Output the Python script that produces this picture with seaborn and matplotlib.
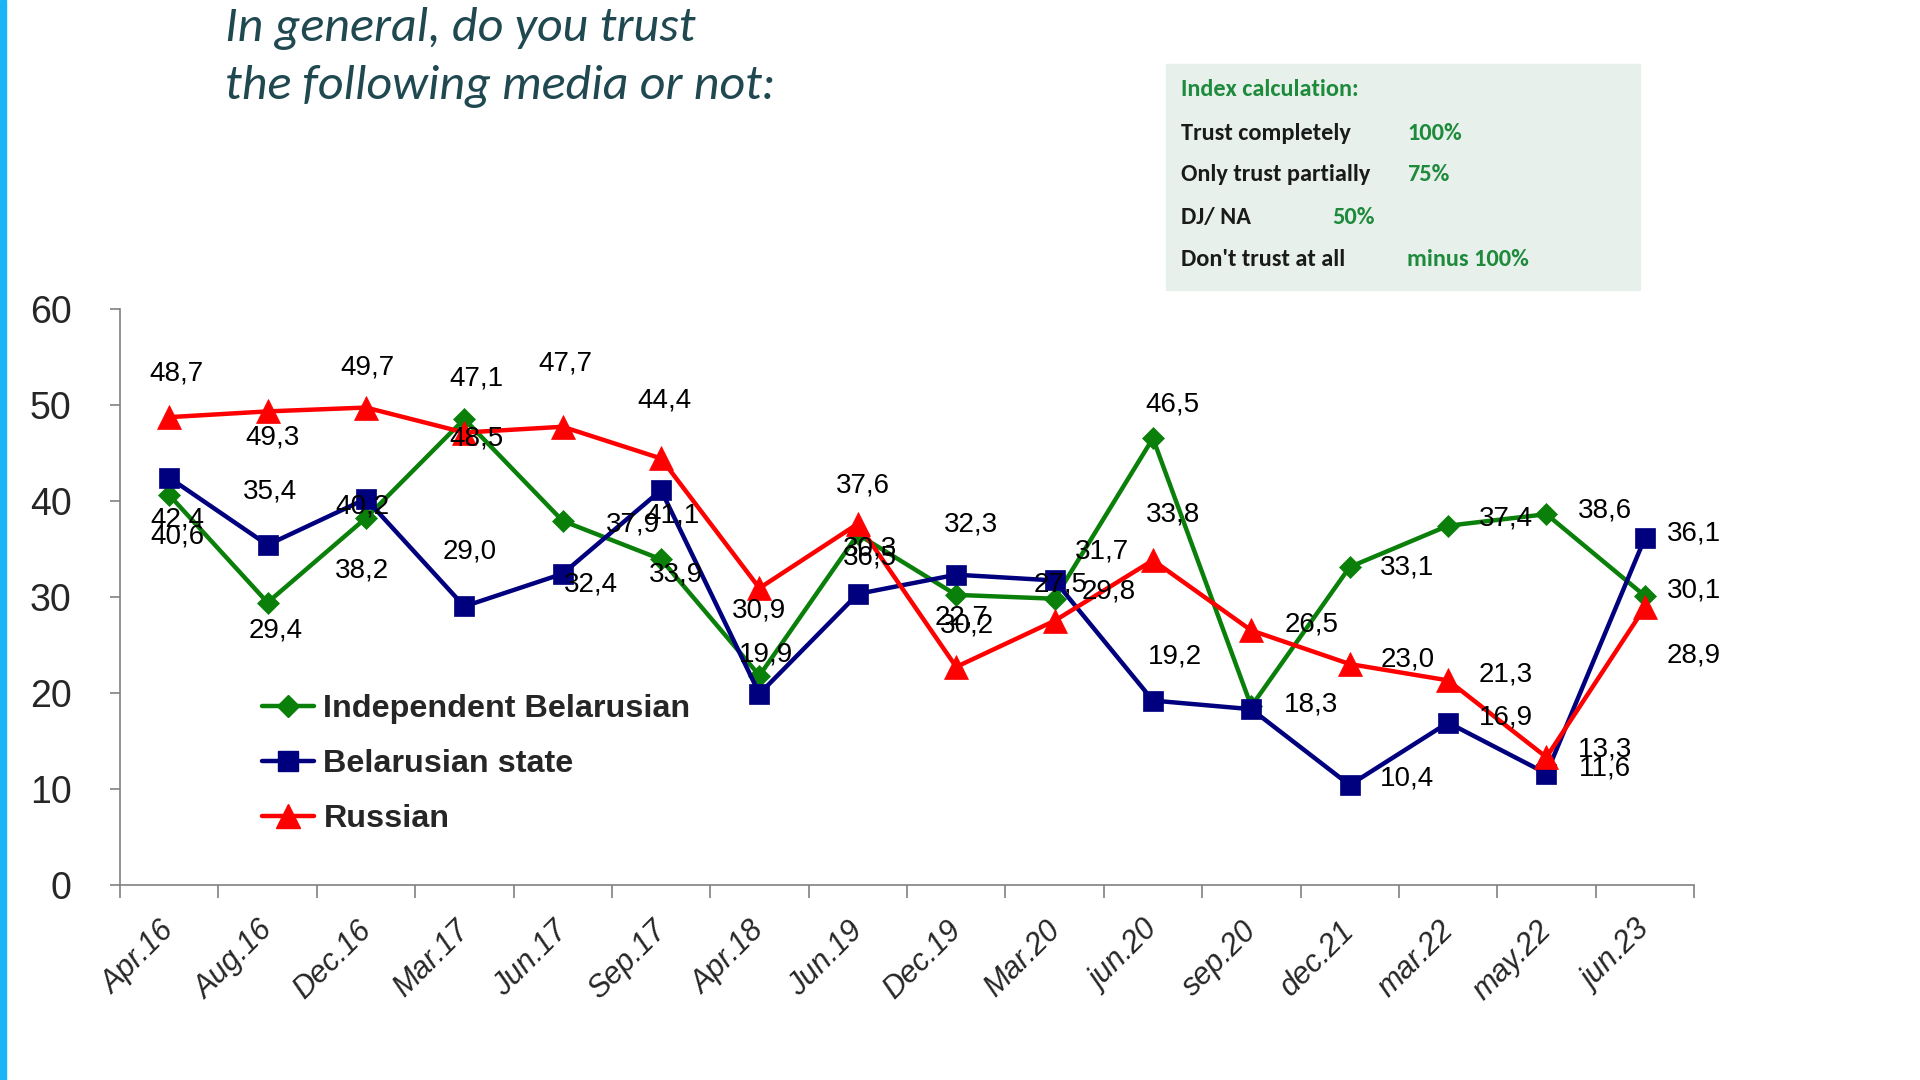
import numpy as np
import pandas as pd
import matplotlib
matplotlib.use("Agg")
import matplotlib.pyplot as plt
from matplotlib import font_manager as fm
from matplotlib.lines import Line2D
from matplotlib.patches import Rectangle
import seaborn as sns

# ---------------- data ----------------
categories = ["Apr.16", "Aug.16", "Dec.16", "Mar.17", "Jun.17", "Sep.17", "Apr.18",
              "Jun.19", "Dec.19", "Mar.20", "jun.20", "sep.20", "dec.21", "mar.22",
              "may.22", "jun.23"]
independent = [40.6, 29.4, 38.2, 48.5, 37.9, 33.9, 21.8, 36.5, 30.2, 29.8, 46.5, 18.6,
               33.1, 37.4, 38.6, 30.1]
state = [42.4, 35.4, 40.2, 29.0, 32.4, 41.1, 19.9, 30.3, 32.3, 31.7, 19.2, 18.3,
         10.4, 16.9, 11.6, 36.1]
russian = [48.7, 49.3, 49.7, 47.1, 47.7, 44.4, 30.9, 37.6, 22.7, 27.5, 33.8, 26.5,
           23.0, 21.3, 13.3, 28.9]
series_names = ["Independent Belarusian", "Belarusian state", "Russian"]
yticks = [0, 10, 20, 30, 40, 50, 60]

title_lines = ["In general, do you trust", "the following media or not:"]
box_title = "Index calculation:"
box_rows = ["Trust completely", "Only trust partially", "DJ/ NA", "Don't trust at all"]
box_values = ["100%", "75%", "50%", "minus 100%"]

# ---------------- styles / label placement (pixel offsets, right/down) ----------------
colors = ["#0A800A", "#00007F", "#FF0000"]
markers = ["D", "s", "^"]
msizes = [11, 15, 17]
off_ind = [(7, 34), (7, 23), (-3, 43), (10, 16), (57, 3), (12, 12), None, (10, 19),
           (9, 25), (44, -6), (16, -28), None, (47, 0), (47, -6), (48, -3), (40, -4)]
off_state = [(7, 34), (2, -44), (-3, 6), (4, -45), (23, 9), (9, 21), (5, -32), (10, -37),
             (12, -41), (39, -24), (18, -36), (49, -4), (47, -5), (47, -4), (48, -4), (40, -4)]
off_rus = [(6, -36), (4, 21), (1, -33), (10, -44), (2, -52), (3, -47), (0, 18), (4, -31),
           (4, -40), (5, -30), (16, -37), (49, -5), (47, -4), (47, -5), (48, -6), (40, 39)]
label_shift = -0.1  # tick-label anchor shift (category units)

# ---------------- fonts ----------------
sns.set_theme(style="white")
avail = {f.name for f in fm.fontManager.ttflist}
def pick(*cands):
    for c in cands:
        if c in avail:
            return c
    return "DejaVu Sans"
ARIAL = pick("Liberation Sans", "Arial", "DejaVu Sans")
CALIBRI = pick("Carlito", "Lato", "Open Sans", "Noto Sans")
plt.rcParams["font.family"] = [ARIAL, "DejaVu Sans"]

SCALE = 1920 / 1568.0

fig = plt.figure(figsize=(19.2, 10.8), dpi=100)
fig.patch.set_facecolor("white")
ax = fig.add_axes([120 / 1920, 1 - 885 / 1080, (1694 - 120) / 1920, (885 - 308.6) / 1080])

x = np.arange(len(categories))
df = pd.DataFrame({"x": np.tile(x, 3),
                   "value": independent + state + russian,
                   "series": np.repeat(series_names, len(categories))})

for name, col, mk, ms in zip(series_names, colors, markers, msizes):
    sub = df[df["series"] == name]
    sns.lineplot(data=sub, x="x", y="value", ax=ax, color=col, linewidth=3.2,
                 marker=mk, markersize=ms, markeredgecolor=col, markeredgewidth=0.5,
                 legend=False, sort=False)

# data labels
for vals, offs in [(independent, off_ind), (state, off_state), (russian, off_rus)]:
    for xi, v, o in zip(x, vals, offs):
        if o is None:
            continue
        ax.annotate(f"{v:.1f}".replace(".", ","), (xi, v),
                    xytext=(o[0] * SCALE, -o[1] * SCALE), textcoords="offset pixels",
                    ha="center", va="center", fontsize=20, color="black",
                    family=[ARIAL, "DejaVu Sans"], zorder=10)

# axes
ax.set_xlim(-0.5, len(categories) - 0.5)
ax.set_ylim(0, 60)
ax.set_xticks(np.arange(-0.5, len(categories), 1.0))
ax.set_xticklabels([])
ax.set_xticks(x + label_shift, minor=True)
ax.set_xticklabels(categories, minor=True, rotation=45, ha="right", va="top",
                   rotation_mode="anchor", fontsize=22, style="italic")
ax.tick_params(axis="x", which="major", direction="out", length=9, width=1.2,
               color="#808080", bottom=True)
ax.tick_params(axis="x", which="minor", length=0, pad=22, bottom=True)
ax.set_yticks(yticks)
ax.set_yticklabels([str(t) for t in yticks], fontsize=27)
ax.tick_params(axis="y", direction="out", length=7, width=1.2, color="#808080",
               pad=28, left=True)
ax.set_xlabel("")
ax.set_ylabel("")
for s in ["top", "right"]:
    ax.spines[s].set_visible(False)
for s in ["left", "bottom"]:
    ax.spines[s].set_color("#808080")
    ax.spines[s].set_linewidth(1.2)
ax.grid(False)

# legend
handles = [Line2D([0], [0], color=c, lw=3.2, marker=m, markersize=ms, markeredgecolor=c)
           for c, m, ms in zip(colors, markers, msizes)]
fig.legend(handles, series_names, loc="upper left", bbox_to_anchor=(262 / 1920, 1 - 694 / 1080),
           bbox_transform=fig.transFigure, frameon=False, handlelength=1.6,
           handletextpad=0.3, labelspacing=0.78, borderpad=0, borderaxespad=0,
           prop={"family": [ARIAL, "DejaVu Sans"], "weight": "bold", "size": 23.3})

# left stripe
fig.add_artist(Rectangle((0, 0), 6 / 1920, 1, transform=fig.transFigure,
                         color="#1BB4F4", zorder=0))

# title
tcol = "#1F4850"
fig.text(225 / 1920, 1 - 28 / 1080, title_lines[0], ha="left", va="center",
         fontsize=36, style="italic", color=tcol, family=[CALIBRI, "DejaVu Sans"])
fig.text(225 / 1920, 1 - 87 / 1080, title_lines[1], ha="left", va="center",
         fontsize=36, style="italic", color=tcol, family=[CALIBRI, "DejaVu Sans"])

# index box
fig.add_artist(Rectangle((1166 / 1920, 1 - 290 / 1080), 474 / 1920, 226 / 1080,
                         transform=fig.transFigure, color="#E7F0EA", zorder=0))
gcol = "#1E8A3C"
bfam = [CALIBRI, "DejaVu Sans"]
fig.text(1181 / 1920, 1 - 90 / 1080, box_title, ha="left", va="center", fontsize=17.5,
         weight="bold", color=gcol, family=bfam)
row_y = [133, 175, 217.5, 260]
val_x = [1407, 1407, 1332, 1407]
for lab, val, yy, vx in zip(box_rows, box_values, row_y, val_x):
    fig.text(1181 / 1920, 1 - yy / 1080, lab, ha="left", va="center", fontsize=17.5,
             weight="bold", color="#1A1A1A", family=bfam)
    fig.text(vx / 1920, 1 - yy / 1080, val, ha="left", va="center", fontsize=17.5,
             weight="bold", color=gcol, family=bfam)

fig.savefig("out.png", dpi=100, facecolor="white")
